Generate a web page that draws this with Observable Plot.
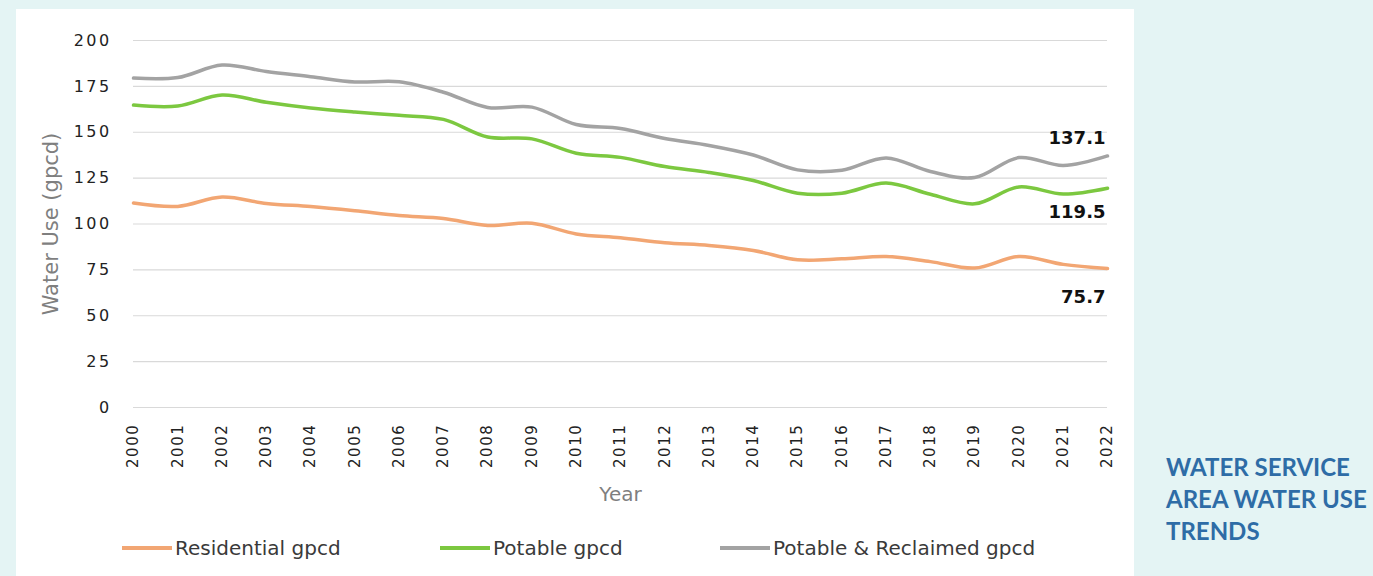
<!DOCTYPE html>
<html>
<head>
<meta charset="utf-8">
<script src="https://cdn.jsdelivr.net/npm/d3@7"></script>
<script src="https://cdn.jsdelivr.net/npm/@observablehq/plot@0.6"></script>
<style>
  html, body { margin: 0; padding: 0; }
  body { width: 1373px; height: 576px; background: #e4f4f4; position: relative; overflow: hidden; font-family: "DejaVu Sans", sans-serif; }
  #panel { position: absolute; left: 16px; top: 9px; width: 1118px; height: 567px; background: #ffffff; }
  #chart { position: absolute; left: 0; top: 0; }
  #chart svg g[aria-label="y-axis tick label"] text { letter-spacing: 2.4px; }
  #chart svg g[aria-label="x-axis tick label"] text { letter-spacing: 1.6px; }
  .leg { position: absolute; top: 527px; font-size: 20px; color: #3a3a3a; white-space: nowrap; display: flex; align-items: center; }
  .leg span.sw { display: inline-block; width: 50px; height: 3.5px; margin-right: 3px; }
  #title { position: absolute; left: 1166px; top: 451px; font-family: Lato, sans-serif; font-weight: 700; font-size: 24px; line-height: 32px; color: #2e6ca6; }
</style>
</head>
<body>
<div id="panel"><div id="chart"></div><div id="legend"></div></div>
<div id="title">WATER SERVICE<br>AREA WATER USE<br>TRENDS</div>
<script>
const years = [2000,2001,2002,2003,2004,2005,2006,2007,2008,2009,2010,2011,2012,2013,2014,2015,2016,2017,2018,2019,2020,2021,2022];
const residential = [111.4,109.6,114.7,111.2,109.5,107.2,104.6,103,99.2,100.4,94.6,92.5,89.8,88.3,85.6,80.5,81,82.3,79.5,76,82.3,78,75.7];
const potable = [164.8,164.3,170.3,166.3,163.2,161,159.2,157,147.4,146.4,138.6,136.3,131.3,128.1,123.7,116.8,116.8,122.3,116.2,111,120.2,116.3,119.5];
const potableReclaimed = [179.5,179.8,186.6,183.1,180.3,177.4,177.5,171.8,163.5,163.7,154.2,152,146.6,142.8,137.6,129.5,129.3,136,128.6,125.3,136.2,131.9,137.1];
const seriesNames = ["Residential gpcd", "Potable gpcd", "Potable & Reclaimed gpcd"];
const seriesColors = ["#f2a673", "#7cc840", "#a3a3a3"];
const yTicks = [0,25,50,75,100,125,150,175,200];
const endLabels = ["75.7", "119.5", "137.1"];

const seriesValues = [residential, potable, potableReclaimed];
const rows = [];
seriesNames.forEach((s, i) => years.forEach((yr, j) => rows.push({series: s, year: yr, value: seriesValues[i][j]})));
const labelRows = seriesNames.map((s, i) => ({series: s, year: years[years.length-1], value: seriesValues[i][years.length-1], text: endLabels[i]}));
const labelDy = {"Residential gpcd": 29, "Potable gpcd": 24, "Potable & Reclaimed gpcd": -18};

const chart = Plot.plot({
  width: 1118,
  height: 500,
  marginLeft: 117,
  marginRight: 27,
  marginTop: 31,
  marginBottom: 102,
  style: {fontFamily: "DejaVu Sans, sans-serif", background: "transparent"},
  x: {domain: [2000, 2022]},
  y: {domain: [0, 200]},
  color: {domain: seriesNames, range: seriesColors},
  marks: [
    Plot.gridY(yTicks, {stroke: "#d9d9d9", strokeOpacity: 1, strokeWidth: 1.2}),
    Plot.axisY(yTicks, {tickSize: 0, tickPadding: 22, label: null, fontSize: 16, fill: "#222"}),
    Plot.axisX(years, {tickSize: 0, tickPadding: 16, tickRotate: -90, label: null, tickFormat: d => String(d), fontSize: 15, fill: "#222"}),
    Plot.text(["Water Use (gpcd)"], {frameAnchor: "left", textAnchor: "middle", rotate: -90, dx: -82, fontSize: 21, fill: "#7f7f7f"}),
    Plot.text(["Year"], {frameAnchor: "bottom", dy: 93, fontSize: 20, fill: "#7f7f7f"}),
    Plot.line(rows, {x: "year", y: "value", z: "series", stroke: "series", strokeWidth: 3.5, curve: "catmull-rom"}),
    ...labelRows.map(r => Plot.text([r], {x: "year", y: "value", text: "text", textAnchor: "end", dx: -2, dy: labelDy[r.series], fontSize: 18, fontWeight: "bold", fill: "#111"}))
  ]
});
document.getElementById("chart").appendChild(chart);

const legendX = [106, 424, 704];
const legend = document.getElementById("legend");
seriesNames.forEach((s, i) => {
  const d = document.createElement("div");
  d.className = "leg";
  d.style.left = legendX[i] + "px";
  const sw = document.createElement("span");
  sw.className = "sw";
  sw.style.background = seriesColors[i];
  d.appendChild(sw);
  d.appendChild(document.createTextNode(s));
  legend.appendChild(d);
});
</script>
</body>
</html>
